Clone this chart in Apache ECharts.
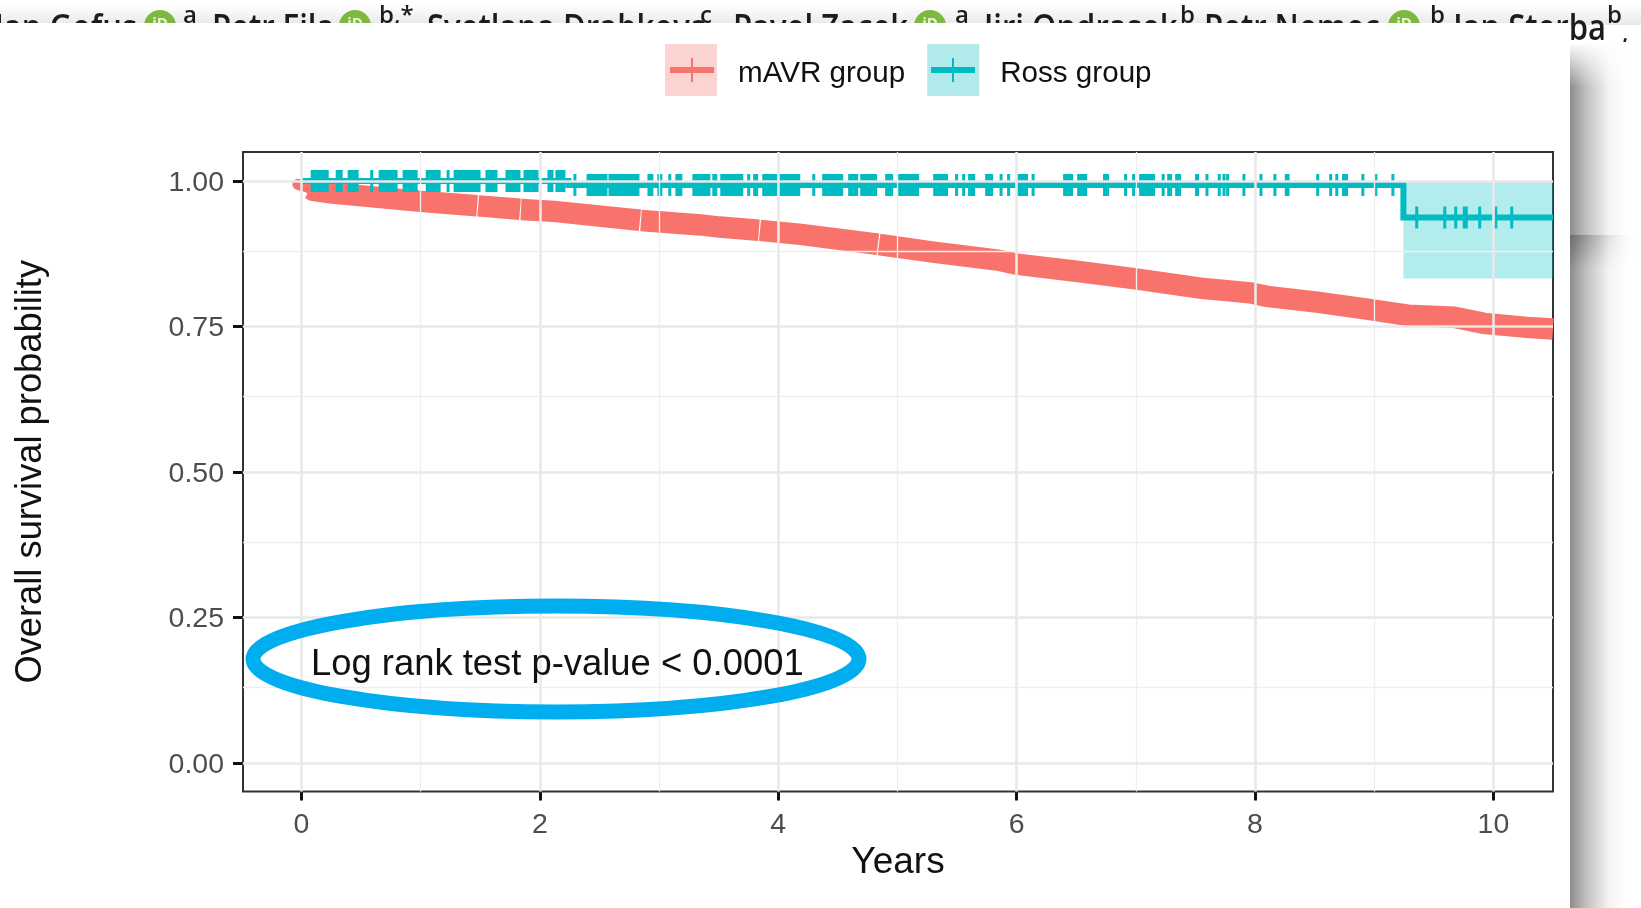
<!DOCTYPE html>
<html><head><meta charset="utf-8">
<style>html,body{margin:0;padding:0;background:#fff}#c{width:1641px;height:908px}</style>
<script src="https://cdn.jsdelivr.net/npm/echarts@6/dist/echarts.min.js"></script>
</head><body><div id="c"></div>
<script>
// ---- data ----
const xTicks = [0, 2, 4, 6, 8, 10];
const xMinor = [1, 3, 5, 7, 9];
const yTicks = [0, 0.25, 0.5, 0.75, 1];
const yMinor = [0.125, 0.375, 0.625, 0.875];

const mavrTime = [-0.03,0.0,0.05,0.07,0.1,0.243,1.0,1.474,1.478,1.483,1.834,1.838,1.842,2.12,2.84,2.844,2.849,3.35,3.51,3.838,3.842,3.847,4.19,4.836,4.84,4.845,5.3,5.84,6.0,6.5,7.0,7.54,7.96,8.1,8.52,8.94,9.28,9.67,9.92,10.28,10.5];
const mavrSurv = [0.9945,0.9925,0.99,0.987,0.984,0.9797,0.9651,0.9576,null,0.9574,0.9515,null,0.951,0.948,0.9327,null,0.9322,0.9247,0.921,0.9155,null,0.9153,0.9084,0.8915,null,0.891,0.878,0.8643,0.8574,0.845,0.832,0.816,0.808,0.802,0.792,0.78,0.7695,0.766,0.7555,0.7486,0.7457];

const rossTime = [0, 2.24, 9.245, 10.5];
const rossSurv = [1.0, 0.9931, 0.9376, 0.9376];
const rossCiTime = [9.245, 10.5];
const rossCiLow = [0.8328, 0.8328];
const rossCiHigh = [1.0, 1.0];

const rossCensorFrom = [0.078,0.288,0.388,0.581,0.648,0.849,1.043,1.226,1.277,1.544,1.712,1.863,2.064,2.131,2.282,2.392,2.576,2.903,2.986,3.078,3.137,3.28,3.447,3.514,3.74,3.79,3.866,4.0,4.286,4.369,4.587,4.688,4.897,5.006,5.3,5.484,5.543,5.593,5.736,5.862,5.92,6.004,6.13,6.39,6.508,6.725,6.902,6.969,7.028,7.221,7.263,7.33,7.497,7.597,7.7,7.74,7.77,7.907,8.05,8.167,8.25,8.526,8.635,8.686,8.73,8.905,9.014,9.157,9.357,9.592,9.684,9.743,9.885,10.02,10.154];
const rossCensorTo   = [0.229,0.346,0.48,0.598,0.807,0.975,1.168,1.235,1.503,1.645,1.838,1.989,2.115,2.215,2.307,2.568,2.836,2.953,3.028,3.103,3.196,3.431,3.489,3.707,3.765,3.832,3.992,4.185,4.311,4.545,4.671,4.83,4.964,5.182,5.425,5.509,5.568,5.652,5.803,5.878,5.946,6.096,6.147,6.474,6.592,6.776,6.927,6.994,7.162,7.238,7.305,7.38,7.531,7.597,7.7,7.74,7.77,7.907,8.05,8.167,8.29,8.526,8.635,8.686,8.78,8.905,9.014,9.157,9.357,9.592,9.684,9.785,9.885,10.02,10.154];

const legendNames = ['mAVR group', 'Ross group'];
const xTitle = 'Years';
const yTitle = 'Overall survival probability';
const note = 'Log rank test p-value < 0.0001';
const headerNames = [['Jan Gofus',137,'right'],['Petr Fila',212,'left'],['Svetlana Drabkova',427,'left'],['Pavel Zacek',733,'left'],['Jiri Ondrasek',984,'left'],['Petr Nemec',1204,'left'],['Jan Sterba',1606,'right']];
const headerSups = [['a',183],['b,*',379],['c',700],['a',955],['b',1180],['b',1430],['b',1607],[',',1622]];
const orcidX = [160,355,930,1404];

// ---- styles ----
const RED='#F8736B', TEAL='#00BCC2', FONT='"Liberation Sans", Arial, sans-serif';
const rossAt = t => { let v = rossSurv[0]; rossTime.forEach((x,i)=>{ if (t>=x) v=rossSurv[i]; }); return v; };
const censorData = rossCensorFrom.map((f,i)=>[f,rossCensorTo[i],rossAt(f)]);

const bg = [];
bg.push({type:'rect',shape:{x:0,y:5,width:1641,height:20},style:{fill:{type:'linear',x:0,y:0,x2:0,y2:1,colorStops:[{offset:0,color:'#ffffff'},{offset:1,color:'#e8e8e8'}]}},z:-5});
headerNames.forEach(n=>bg.push({type:'text',z:-4,x:n[1],y:42,scaleY:1.15,style:{text:n[0],x:0,y:5,textAlign:n[2],verticalAlign:'bottom',font:'600 31px "Open Sans", sans-serif',fill:'#1c1c1c'}}));
headerSups.forEach(n=>bg.push({type:'text',z:-4,style:{text:n[0],x:n[1],y:n[0]===','?46:28,verticalAlign:'bottom',font:'600 24px "Open Sans", sans-serif',fill:'#1c1c1c'}}));
orcidX.forEach(x=>{
  bg.push({type:'circle',z:-4,shape:{cx:x,cy:26,r:16},style:{fill:'#7DB83F'}});
  bg.push({type:'text',z:-4,style:{text:'iD',x:x,y:24,textAlign:'center',verticalAlign:'middle',font:'700 15px "Open Sans", sans-serif',fill:'#e8f3d8'}});
});
// shadows to the right of the page sheet
const hShadow={type:'linear',x:0,y:0,x2:1,y2:0,colorStops:[{offset:0,color:'#8c8c8c'},{offset:0.25,color:'#c4c4c4'},{offset:0.55,color:'#f4f4f4'},{offset:0.8,color:'#ffffff'},{offset:1,color:'#ffffff'}]};
bg.push({type:'rect',z:-3,shape:{x:1570,y:235,width:71,height:673},style:{fill:hShadow}});
bg.push({type:'rect',z:-3,shape:{x:1570,y:44,width:71,height:191},style:{fill:hShadow}});
bg.push({type:'rect',z:-3,shape:{x:1570,y:42,width:71,height:45},style:{fill:{type:'linear',x:0,y:0,x2:0,y2:1,colorStops:[{offset:0,color:'rgba(255,255,255,1)'},{offset:1,color:'rgba(255,255,255,0)'}]}}});
for (let dx=0; dx<71; dx+=2) {
  const a=(0.62*(1-dx/71)*(1-dx/71)).toFixed(3);
  bg.push({type:'rect',z:-3,shape:{x:1570+dx,y:235,width:2,height:34},style:{fill:{type:'linear',x:0,y:0,x2:0,y2:1,colorStops:[{offset:0,color:'rgba(90,90,90,'+a+')'},{offset:1,color:'rgba(90,90,90,0)'}]}}});
}
// white sheet holding the figure
bg.push({type:'rect',z:-2,shape:{x:0,y:23,width:1570,height:885},style:{fill:'#fff'}});

const fg = [
 {type:'text',z:20,style:{text:note,x:311,y:665,verticalAlign:'middle',font:'36.4px '+FONT,fill:'#111'}},
 {type:'ellipse',z:20,shape:{cx:556,cy:659,rx:303,ry:53},style:{fill:'none',stroke:'#00AEEF',lineWidth:15}},
 {type:'line',z:20,shape:{x1:670,y1:70,x2:714,y2:70},style:{stroke:RED,lineWidth:6}},
 {type:'line',z:20,shape:{x1:692,y1:58,x2:692,y2:82},style:{stroke:RED,lineWidth:2}},
 {type:'line',z:20,shape:{x1:931,y1:70,x2:975,y2:70},style:{stroke:TEAL,lineWidth:6}},
 {type:'line',z:20,shape:{x1:953,y1:58,x2:953,y2:82},style:{stroke:TEAL,lineWidth:2}}
];

const chart = echarts.init(document.getElementById('c'));
chart.setOption({
  animation:false,
  backgroundColor:'#fff',
  textStyle:{fontFamily:FONT},
  graphic:{elements:bg.concat(fg)},
  legend:{
    left:665, top:44, padding:0, itemWidth:52, itemHeight:52, itemGap:22, selectedMode:false,
    formatter:n=>'{t|'+n+'}',
    textStyle:{fontSize:29.6,color:'#111',fontFamily:FONT,padding:[0,0,0,16],
      rich:{t:{fontSize:29.6,color:'#111',fontFamily:FONT,padding:[7,0,0,0]}}},
    data:[
      {name:legendNames[0],icon:'rect',itemStyle:{color:'#FBD3D0',borderWidth:0,opacity:1}},
      {name:legendNames[1],icon:'rect',itemStyle:{color:'#B2EAEB',borderWidth:0,opacity:1}}
    ]
  },
  grid:{left:243,right:88,top:152,height:639.5,show:true,backgroundColor:'transparent',borderColor:'#333',borderWidth:2,z:1,outerBoundsMode:'none',containLabel:false},
  xAxis:{
    type:'value',min:-0.49,max:10.5,
    name:xTitle,nameLocation:'middle',nameGap:53,
    nameTextStyle:{fontSize:37,color:'#111',fontFamily:FONT},
    axisLine:{show:false,onZero:false},
    axisTick:{show:true,length:9,lineStyle:{color:'#111',width:3},customValues:xTicks},
    axisLabel:{fontSize:28.5,color:'#4D4D4D',margin:19,customValues:xTicks,fontFamily:FONT},
    splitLine:{show:false}
  },
  yAxis:{
    type:'value',min:-0.049,max:1.05,
    name:yTitle,nameLocation:'middle',nameGap:194,nameRotate:90,
    nameTextStyle:{fontSize:36.3,color:'#111',fontFamily:FONT},
    axisLine:{show:false,onZero:false},
    axisTick:{show:true,length:10,lineStyle:{color:'#111',width:3},customValues:yTicks},
    axisLabel:{fontSize:28.5,color:'#4D4D4D',margin:19,customValues:yTicks,fontFamily:FONT,
      formatter:v=>'{t|'+v.toFixed(2)+'}',
      rich:{t:{fontSize:28.5,color:'#4D4D4D',fontFamily:FONT,padding:[4,0,0,0]}}},
    splitLine:{show:false}
  },
  series:[
    {type:'line',name:'grid',data:[],silent:true,z:1,
     markLine:{silent:true,symbol:'none',label:{show:false},animation:false,
       data:[].concat(
         xMinor.map(v=>({xAxis:v,lineStyle:{color:'#EFEFEF',width:1.3,type:'solid'}})),
         yMinor.map(v=>({yAxis:v,lineStyle:{color:'#EFEFEF',width:1.3,type:'solid'}})),
         xTicks.map(v=>({xAxis:v,lineStyle:{color:'#E9E9E9',width:2.6,type:'solid'}})),
         yTicks.map(v=>({yAxis:v,lineStyle:{color:'#E9E9E9',width:2.6,type:'solid'}}))
       )}},
    {type:'custom',name:'Ross CI',z:2,silent:true,clip:true,
     data:[[rossCiTime[0],rossCiTime[1],rossCiLow[0],rossCiHigh[0]]],
     encode:{x:[0,1],y:[2,3]},
     renderItem:(p,api)=>{
       const a=api.coord([api.value(0),api.value(3)]),b=api.coord([api.value(1),api.value(2)]);
       return {type:'rect',shape:{x:a[0],y:a[1],width:b[0]-a[0],height:b[1]-a[1]},style:{fill:'rgba(0,191,196,0.3)'}};
     }},
    {type:'line',name:'mAVR start',z:3,silent:true,clip:true,showSymbol:false,symbol:'none',connectNulls:false,
     data:mavrTime.slice(0,4).map((t,i)=>[t,mavrSurv[i]]),
     lineStyle:{color:RED,width:11,cap:'round'}},
    {type:'line',name:legendNames[0],z:3,clip:true,showSymbol:false,symbol:'none',connectNulls:false,
     data:mavrTime.slice(3).map((t,i)=>[t,mavrSurv[i+3]]),
     lineStyle:{color:RED,width:21.5,cap:'butt',join:'miter'},itemStyle:{color:RED}},
    {type:'line',name:legendNames[1],z:4,clip:true,showSymbol:false,symbol:'none',step:'end',
     data:rossTime.map((t,i)=>[t,rossSurv[i]]),
     lineStyle:{color:TEAL,width:6,join:'miter'},itemStyle:{color:TEAL}},
    {type:'custom',name:'Ross censored',z:4,silent:true,clip:true,
     data:censorData,encode:{x:[0,1],y:2},
     renderItem:(p,api)=>{
       const a=api.coord([api.value(0),api.value(2)]),b=api.coord([api.value(1),api.value(2)]);
       const w=Math.max(b[0]-a[0],3);
       const x=b[0]-a[0]<3?(a[0]+b[0])/2-1.5:a[0];
       return {type:'rect',shape:{x:x,y:a[1]-11,width:w,height:22},style:{fill:TEAL}};
     }}
  ]
});
</script></body></html>
